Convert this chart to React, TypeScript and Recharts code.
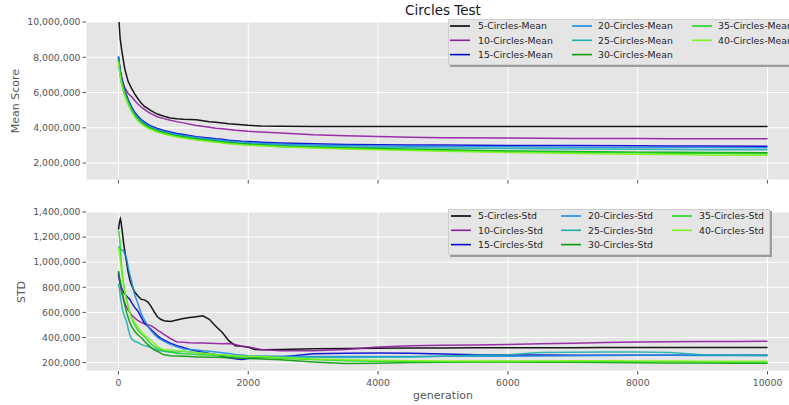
import React from 'react';
import { LineChart, Line, XAxis, YAxis, CartesianGrid } from 'recharts';

// generations sampled for the mean panel
const meanGens = [0, 25, 50, 75, 100, 150, 200, 250, 300, 350, 400, 450, 500, 600, 700, 800, 900, 1000, 1200, 1400, 1500, 1600, 1700, 1800, 1900, 2000, 2200, 2500, 3000, 3500, 4000, 4500, 5000, 6000, 7000, 8000, 8500, 9000, 10000];

// mean score, in millions
const mean5 = [10.5, 9.1, 8.4, 7.84, 7.3, 6.62, 6.25, 5.92, 5.65, 5.4, 5.22, 5.1, 4.97, 4.78, 4.66, 4.56, 4.51, 4.48, 4.45, 4.35, 4.31, 4.27, 4.23, 4.2, 4.17, 4.14, 4.1, 4.09, 4.08, 4.08, 4.08, 4.08, 4.08, 4.08, 4.08, 4.08, 4.08, 4.08, 4.08];
const mean10 = [8.0, 7.35, 6.85, 6.5, 6.25, 5.95, 5.77, 5.55, 5.35, 5.18, 5.05, 4.92, 4.8, 4.63, 4.52, 4.43, 4.35, 4.28, 4.13, 4.03, 3.98, 3.94, 3.9, 3.86, 3.83, 3.8, 3.76, 3.7, 3.6, 3.55, 3.5, 3.47, 3.44, 3.42, 3.4, 3.39, 3.385, 3.38, 3.38];
const mean15 = [8.05, 7.25, 6.8, 6.43, 6.1, 5.6, 5.2, 4.88, 4.65, 4.47, 4.33, 4.2, 4.1, 3.96, 3.85, 3.76, 3.68, 3.62, 3.5, 3.42, 3.38, 3.35, 3.3, 3.27, 3.24, 3.22, 3.18, 3.14, 3.09, 3.06, 3.04, 3.03, 3.02, 3.0, 2.99, 2.98, 2.97, 2.97, 2.96];
const mean20 = [8.0, 7.2, 6.7, 6.35, 6.02, 5.52, 5.12, 4.8, 4.58, 4.4, 4.26, 4.14, 4.05, 3.9, 3.79, 3.7, 3.62, 3.56, 3.45, 3.37, 3.33, 3.29, 3.25, 3.22, 3.19, 3.16, 3.12, 3.07, 3.02, 2.99, 2.97, 2.95, 2.94, 2.92, 2.9, 2.89, 2.88, 2.88, 2.87];
const mean25 = [7.9, 7.1, 6.6, 6.25, 5.95, 5.45, 5.05, 4.75, 4.52, 4.35, 4.21, 4.1, 4.0, 3.86, 3.75, 3.66, 3.58, 3.52, 3.41, 3.32, 3.28, 3.24, 3.2, 3.17, 3.14, 3.11, 3.07, 3.02, 2.96, 2.92, 2.89, 2.87, 2.85, 2.82, 2.8, 2.78, 2.77, 2.76, 2.75];
const mean30 = [7.85, 7.05, 6.55, 6.2, 5.9, 5.4, 5.0, 4.7, 4.47, 4.3, 4.16, 4.05, 3.96, 3.82, 3.71, 3.62, 3.54, 3.48, 3.37, 3.28, 3.24, 3.2, 3.16, 3.13, 3.1, 3.07, 3.02, 2.96, 2.9, 2.86, 2.82, 2.78, 2.75, 2.69, 2.65, 2.62, 2.61, 2.6, 2.58];
const mean35 = [7.8, 7.0, 6.5, 6.15, 5.85, 5.37, 4.97, 4.67, 4.44, 4.27, 4.13, 4.02, 3.93, 3.79, 3.68, 3.59, 3.51, 3.45, 3.34, 3.25, 3.21, 3.17, 3.13, 3.1, 3.07, 3.04, 2.99, 2.93, 2.88, 2.83, 2.79, 2.75, 2.72, 2.66, 2.61, 2.58, 2.56, 2.55, 2.53];
const mean40 = [7.75, 6.95, 6.45, 6.1, 5.8, 5.33, 4.93, 4.63, 4.4, 4.23, 4.09, 3.98, 3.9, 3.76, 3.65, 3.56, 3.48, 3.42, 3.31, 3.22, 3.18, 3.14, 3.1, 3.07, 3.04, 3.01, 2.98, 2.93, 2.86, 2.8, 2.75, 2.71, 2.67, 2.6, 2.54, 2.5, 2.48, 2.46, 2.44];

// generations sampled for the std panel
const stdGens = [0, 10, 20, 30, 40, 50, 60, 80, 100, 125, 150, 175, 200, 250, 300, 350, 400, 450, 500, 550, 600, 650, 700, 800, 900, 1000, 1100, 1200, 1300, 1400, 1500, 1600, 1700, 1800, 1900, 2000, 2100, 2200, 2500, 3000, 3500, 4000, 4500, 5000, 5500, 6000, 6500, 7000, 7500, 8000, 8500, 9000, 9500, 10000];

// std, in thousands
const std5 = [1260, 1300, 1330, 1345, 1320, 1280, 1240, 1150, 1080, 1000, 920, 860, 820, 762, 730, 705, 700, 685, 650, 605, 565, 545, 533, 528, 540, 552, 560, 566, 573, 545, 490, 440, 375, 335, 330, 322, 305, 303, 305, 310, 312, 315, 316, 317, 318, 318, 319, 319, 320, 320, 320, 320, 320, 320];
const std10 = [900, 870, 840, 810, 780, 760, 740, 700, 670, 640, 618, 600, 580, 555, 535, 520, 510, 502, 495, 478, 458, 443, 425, 392, 365, 362, 358, 356, 357, 354, 352, 350, 352, 345, 330, 325, 315, 305, 295, 295, 305, 325, 335, 338, 340, 344, 350, 355, 360, 364, 366, 368, 369, 370];
const std15 = [920, 880, 850, 830, 815, 795, 780, 760, 745, 730, 715, 705, 680, 640, 610, 560, 515, 490, 465, 440, 415, 395, 380, 355, 335, 320, 305, 292, 282, 273, 262, 248, 238, 230, 225, 232, 238, 240, 245, 270, 275, 276, 275, 268, 262, 260, 260, 258, 258, 258, 258, 258, 258, 258];
const std20 = [1125, 1120, 1110, 1105, 1100, 1098, 1095, 1090, 1060, 1032, 960, 900, 850, 740, 670, 590, 540, 495, 455, 425, 400, 385, 370, 345, 325, 310, 305, 300, 295, 290, 285, 278, 272, 265, 260, 255, 253, 252, 250, 248, 248, 248, 249, 250, 250, 251, 253, 255, 256, 258, 258, 257, 256, 255];
const std25 = [830, 800, 760, 720, 690, 660, 630, 590, 560, 530, 470, 420, 390, 370, 360, 345, 335, 330, 320, 310, 300, 295, 290, 285, 285, 290, 285, 280, 275, 270, 265, 260, 255, 250, 248, 246, 245, 245, 244, 243, 240, 242, 245, 250, 258, 262, 280, 283, 285, 285, 280, 262, 258, 258];
const std30 = [930, 900, 870, 840, 810, 780, 750, 700, 650, 600, 560, 520, 490, 450, 420, 400, 370, 345, 320, 300, 290, 275, 262, 255, 252, 250, 248, 245, 244, 243, 242, 240, 238, 236, 234, 232, 230, 228, 222, 205, 193, 195, 200, 203, 205, 205, 203, 202, 200, 198, 197, 196, 195, 195];
const std35 = [1250, 1230, 1180, 1100, 1020, 960, 900, 820, 760, 700, 650, 600, 560, 500, 460, 430, 410, 380, 350, 330, 315, 305, 295, 285, 275, 270, 268, 265, 262, 260, 257, 254, 252, 250, 248, 246, 244, 242, 235, 225, 215, 210, 208, 207, 207, 208, 208, 208, 208, 207, 206, 205, 205, 205];
const std40 = [1110, 1080, 1040, 1000, 960, 920, 880, 820, 760, 700, 640, 600, 560, 520, 480, 450, 420, 400, 380, 355, 330, 315, 305, 300, 295, 290, 285, 280, 275, 270, 265, 262, 258, 255, 252, 250, 250, 248, 240, 228, 222, 218, 215, 213, 212, 212, 213, 215, 214, 213, 212, 211, 210, 210];

const circleCounts = [5, 10, 15, 20, 25, 30, 35, 40];
const colors = ['#000000', '#8e1c9e', '#0000cc', '#1a8ce6', '#1fb0ac', '#079a07', '#1ed81e', '#7ef21e'];
const meanSeries = [mean5, mean10, mean15, mean20, mean25, mean30, mean35, mean40];
const stdSeries = [std5, std10, std15, std20, std25, std30, std35, std40];

const xTicks = [0, 2000, 4000, 6000, 8000, 10000];
const meanTicks = [2000000, 4000000, 6000000, 8000000, 10000000];
const stdTicks = [200000, 400000, 600000, 800000, 1000000, 1200000, 1400000];

const meanData = meanGens.map((g, i) => {
  const row: Record<string, number> = { gen: g };
  circleCounts.forEach((c, k) => { row[`m${c}`] = meanSeries[k][i] * 1e6; });
  return row;
});
const stdData = stdGens.map((g, i) => {
  const row: Record<string, number> = { gen: g };
  circleCounts.forEach((c, k) => { row[`s${c}`] = stdSeries[k][i] * 1e3; });
  return row;
});

const font = '"DejaVu Sans", sans-serif';
const tickStyle = { fill: '#555555', fontSize: 9.3, fontFamily: font };
const fmt = (v: number) => v.toLocaleString('en-US');

const ChartLegend = ({ suffix, left, top, width, colX, textX }:
  { suffix: string; left: number; top: number; width: number; colX: number[]; textX: number[] }) => (
  <div style={{
    position: 'absolute', left, top, width, height: 46, background: '#e5e5e5',
    border: '1px solid #cfcfcf', boxShadow: '2px 2px 0 #9c9c9c', boxSizing: 'border-box',
  }}>
    <svg width={width} height={46} style={{ position: 'absolute', left: -1, top: -1 }}>
      {circleCounts.map((c, k) => {
        const col = Math.floor(k / 3);
        const rowY = 7 + (k % 3) * 14.3;
        return (
          <g key={c}>
            <line x1={colX[col] - left} x2={colX[col] - left + 20} y1={rowY} y2={rowY}
              stroke={colors[k]} strokeWidth={1.6} />
            <text x={textX[col] - left} y={rowY + 3.4} fontSize={9.3} fontFamily={font} fill="#262626">
              {`${c}-Circles-${suffix}`}
            </text>
          </g>
        );
      })}
    </svg>
  </div>
);

const Label = ({ x, y, text, size, rotate, color }:
  { x: number; y: number; text: string; size: number; rotate?: boolean; color: string }) => (
  <div style={{
    position: 'absolute', left: x, top: y, fontSize: size, fontFamily: font, color, lineHeight: 1,
    whiteSpace: 'nowrap', transform: `translate(-50%, -50%)${rotate ? ' rotate(-90deg)' : ''}`,
  }}>{text}</div>
);

export default function App() {
  return (
    <div style={{ position: 'fixed', left: 0, top: 0, width: 789, height: 405, overflow: 'hidden', background: '#fff' }}>
      <div style={{ position: 'absolute', left: 0, top: 0 }}>
        <LineChart width={820} height={190} data={meanData} margin={{ top: 22, right: 20, bottom: 0, left: 0 }}>
          <CartesianGrid stroke="#ffffff" strokeWidth={1} fill="#e5e5e5" fillOpacity={1} />
          <XAxis dataKey="gen" type="number" domain={[-500, 10500]} ticks={xTicks} height={10}
            axisLine={false} tickLine={{ stroke: '#555555' }} tickSize={3.5} tickFormatter={() => ''} />
          <YAxis type="number" domain={[1040000, 10000000]} allowDataOverflow ticks={meanTicks} width={86}
            axisLine={false} tickLine={{ stroke: '#555555' }} tickSize={3.5} tickMargin={2}
            tick={tickStyle} tickFormatter={fmt} />
          {circleCounts.map((c, k) => (
            <Line key={c} dataKey={`m${c}`} stroke={colors[k]} strokeWidth={1.5} strokeOpacity={0.9}
              dot={false} type="linear" isAnimationActive={false} />
          ))}
        </LineChart>
      </div>
      <div style={{ position: 'absolute', left: 0, top: 200 }}>
        <LineChart width={820} height={205} data={stdData} margin={{ top: 12, right: 20, bottom: 0, left: 0 }}>
          <CartesianGrid stroke="#ffffff" strokeWidth={1} fill="#e5e5e5" fillOpacity={1} />
          <XAxis dataKey="gen" type="number" domain={[-500, 10500]} ticks={xTicks} height={34}
            axisLine={false} tickLine={{ stroke: '#555555' }} tickSize={3.5} tickMargin={4.5}
            tick={tickStyle} />
          <YAxis type="number" domain={[133000, 1400000]} allowDataOverflow ticks={stdTicks} width={86}
            axisLine={false} tickLine={{ stroke: '#555555' }} tickSize={3.5} tickMargin={2}
            tick={tickStyle} tickFormatter={fmt} />
          {circleCounts.map((c, k) => (
            <Line key={c} dataKey={`s${c}`} stroke={colors[k]} strokeWidth={1.5} strokeOpacity={0.9}
              dot={false} type="linear" isAnimationActive={false} />
          ))}
        </LineChart>
      </div>
      <Label x={443} y={11} text="Circles Test" size={13.5} color="#1a1a1a" />
      <Label x={15} y={101} text="Mean Score" size={11} rotate color="#555555" />
      <Label x={21} y={292} text="STD" size={11} rotate color="#555555" />
      <Label x={443} y={395} text="generation" size={11} color="#555555" />
      <ChartLegend suffix="Mean" left={448} top={19} width={360} colX={[450, 572, 692]} textX={[478, 598, 718]} />
      <ChartLegend suffix="Std" left={448} top={209} width={322} colX={[451, 561, 672]} textX={[478, 588, 699]} />
    </div>
  );
}
